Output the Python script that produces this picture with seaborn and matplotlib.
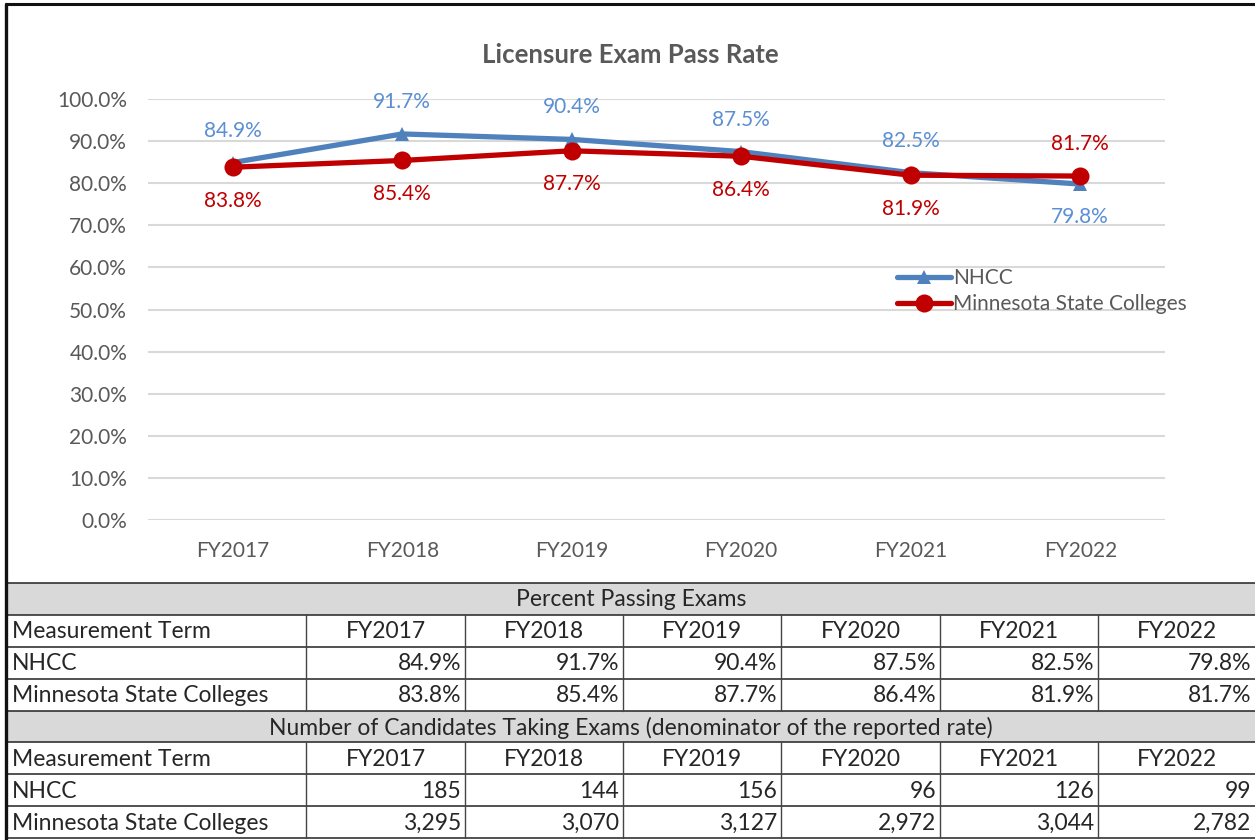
import pandas as pd
import matplotlib.pyplot as plt
import seaborn as sns
from matplotlib.ticker import FuncFormatter
from matplotlib.patches import Rectangle

sns.set_style('white')
plt.rcParams['font.family'] = ['Lato', 'DejaVu Sans']

# data
terms = ['FY2017', 'FY2018', 'FY2019', 'FY2020', 'FY2021', 'FY2022']
nhcc_rate = [84.9, 91.7, 90.4, 87.5, 82.5, 79.8]
mnsc_rate = [83.8, 85.4, 87.7, 86.4, 81.9, 81.7]
nhcc_count = [185, 144, 156, 96, 126, 99]
mnsc_count = [3295, 3070, 3127, 2972, 3044, 2782]
series_names = ['NHCC', 'Minnesota State Colleges']
title = 'Licensure Exam Pass Rate'
table_head1 = 'Percent Passing Exams'
table_head2 = 'Number of Candidates Taking Exams (denominator of the reported rate)'
row_label = 'Measurement Term'

BLUE = '#4F81BD'
BLUE_LBL = '#5B8FD3'
RED = '#C00000'
GRAY = '#595959'

W, H = 1255, 840
fig = plt.figure(figsize=(W / 100, H / 100), dpi=100)

ax = fig.add_axes([148 / W, 1 - 520 / H, (1165 - 148) / W, (520 - 99) / H])

df_n = pd.DataFrame({'term': terms, 'rate': nhcc_rate})
df_m = pd.DataFrame({'term': terms, 'rate': mnsc_rate})

sns.lineplot(data=df_n, x='term', y='rate', color=BLUE, linewidth=3.8,
             marker='^', markersize=10, markeredgewidth=0, label=series_names[0],
             ax=ax, zorder=3)
sns.lineplot(data=df_m, x='term', y='rate', color=RED, linewidth=3.8,
             marker='o', markersize=13, markeredgewidth=0, label=series_names[1],
             ax=ax, zorder=4)

# data labels: higher value above, lower below
for i, (a, b) in enumerate(zip(nhcc_rate, mnsc_rate)):
    da = 23 if a >= b else -24
    db = -24 if a >= b else 23
    ax.annotate(f'{a:.1f}%', (i, a), xytext=(0, da), textcoords='offset points',
                ha='center', va='center', color=BLUE_LBL, fontsize=15)
    ax.annotate(f'{b:.1f}%', (i, b), xytext=(0, db), textcoords='offset points',
                ha='center', va='center', color=RED, fontsize=15)

ax.set_xlim(-0.5, len(terms) - 0.5)
ax.set_ylim(0, 100)
ax.set_yticks(range(0, 101, 10))
ax.yaxis.set_major_formatter(FuncFormatter(lambda v, p: f'{v:.1f}%'))
ax.grid(axis='y', color='#D9D9D9', linewidth=1.5)
ax.grid(axis='x', visible=False)
for s in ax.spines.values():
    s.set_visible(False)
ax.tick_params(length=0, labelsize=15, labelcolor=GRAY)
ax.tick_params(axis='y', pad=15)
ax.tick_params(axis='x', pad=15)
ax.set_xlabel('')
ax.set_ylabel('')

ax.legend(loc='upper left', bbox_to_anchor=(897 / W, 1 - 268 / H),
          bbox_transform=fig.transFigure, frameon=False, fontsize=15,
          labelcolor=GRAY, handlelength=2.6, handletextpad=0.1,
          labelspacing=0.3, borderpad=0, borderaxespad=0)

fig.text(630 / W, 1 - 55 / H, title, ha='center', va='center',
         fontsize=18.5, fontweight='bold', color=GRAY)

# table + frame drawn in pixel coordinates
tax = fig.add_axes([0, 0, 1, 1], zorder=5)
tax.set_xlim(0, W)
tax.set_ylim(H, 0)
tax.axis('off')
tax.patch.set_visible(False)

row_y = [583, 615, 647, 679, 711, 742, 774, 806, 838]
col_x = [7, 306, 465, 623, 781, 940, 1098, 1255]

for k in (0, 4):
    tax.add_patch(Rectangle((col_x[0], row_y[k]), col_x[-1] - col_x[0],
                            row_y[k + 1] - row_y[k], facecolor='#D9D9D9',
                            edgecolor='none'))
for y in row_y:
    tax.plot([col_x[0], col_x[-1]], [y, y], color='#222222', lw=1.1)
for k in (1, 5):
    for x in col_x[1:-1]:
        tax.plot([x, x], [row_y[k], row_y[k + 3]], color='#444444', lw=1.0)

# chart frame
tax.plot([6, W], [4, 4], color='#111111', lw=2.2)
tax.plot([6, 6], [4, H], color='#111111', lw=2.4)

fs = 16.5
cy = lambda k: (row_y[k] + row_y[k + 1]) / 2 + 1
tax.text((col_x[0] + col_x[-1]) / 2, cy(0), table_head1, ha='center', va='center', fontsize=fs)
tax.text((col_x[0] + col_x[-1]) / 2, cy(4), table_head2, ha='center', va='center', fontsize=fs)

blocks = [
    (1, [f'{v:.1f}%' for v in nhcc_rate], [f'{v:.1f}%' for v in mnsc_rate]),
    (5, [f'{v:,}' for v in nhcc_count], [f'{v:,}' for v in mnsc_count]),
]
for k, n_vals, m_vals in blocks:
    tax.text(col_x[0] + 5, cy(k), row_label, ha='left', va='center', fontsize=fs)
    tax.text(col_x[0] + 5, cy(k + 1), series_names[0], ha='left', va='center', fontsize=fs)
    tax.text(col_x[0] + 5, cy(k + 2), series_names[1], ha='left', va='center', fontsize=fs)
    for j, t in enumerate(terms):
        xl, xr = col_x[j + 1], col_x[j + 2]
        tax.text((xl + xr) / 2, cy(k), t, ha='center', va='center', fontsize=fs)
        tax.text(xr - 4, cy(k + 1), n_vals[j], ha='right', va='center', fontsize=fs)
        tax.text(xr - 4, cy(k + 2), m_vals[j], ha='right', va='center', fontsize=fs)

fig.savefig('out.png', dpi=100)
